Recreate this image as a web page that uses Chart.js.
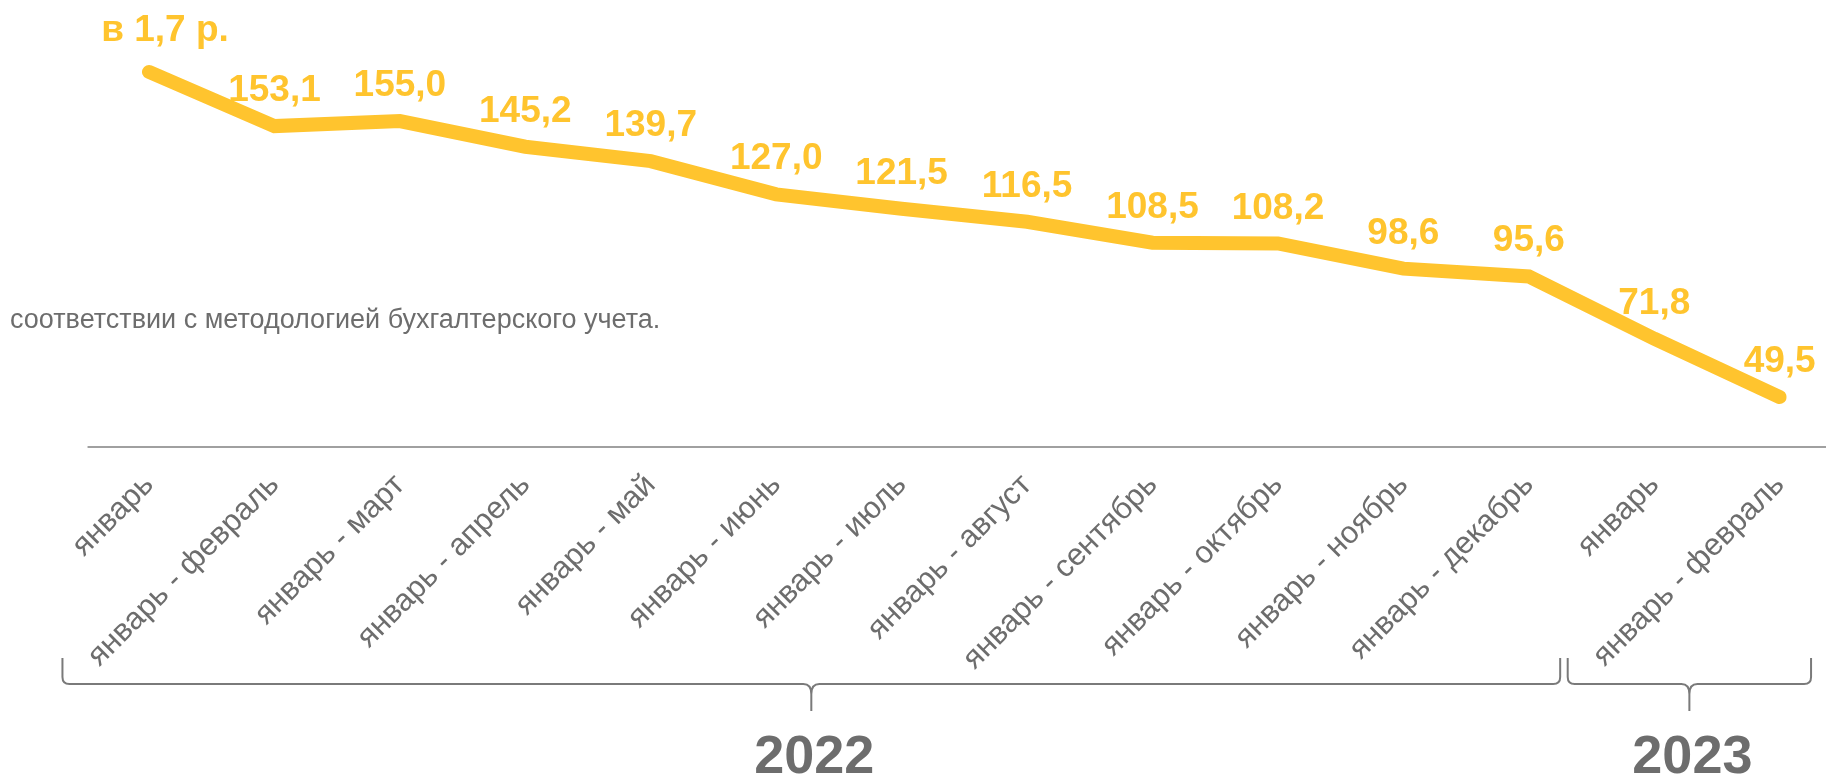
<!DOCTYPE html>
<html lang="ru">
<head>
<meta charset="utf-8">
<script src="https://cdn.jsdelivr.net/npm/chart.js@4.4.1/dist/chart.umd.min.js"></script>
<style>
  html, body { margin: 0; padding: 0; background: #fff; }
  #wrap { width: 1826px; height: 774px; position: relative; }
</style>
</head>
<body>
<div id="wrap"><canvas id="chart"></canvas></div>
<script>
// categories (x axis)
const periods = [
  'январь', 'январь - февраль', 'январь - март', 'январь - апрель', 'январь - май',
  'январь - июнь', 'январь - июль', 'январь - август', 'январь - сентябрь',
  'январь - октябрь', 'январь - ноябрь', 'январь - декабрь',
  'январь', 'январь - февраль'
];

// series values
const values = [173.8, 153.1, 155.0, 145.2, 139.7, 127.0, 121.5, 116.5, 108.5, 108.2, 98.6, 95.6, 71.8, 49.5];

// label above the first point
const firstLabel = 'в 1,7 р.';

// year groups under the axis
const years = ['2022', '2023'];
const yearFirst = [0, 12];
const yearLast = [11, 13];

const note = 'соответствии с методологией бухгалтерского учета.';

const colors = {
  yellow: '#FFC42E',
  gray: '#6d6d6d',
  axis: '#a0a0a0',
  brace: '#7a7a7a'
};
const font = "'Liberation Sans', Arial, sans-serif";

function fmt(v) {
  return v.toFixed(1).replace('.', ',');
}

/**
 * Extra drawing: axis line, note, value labels, year braces
 */
const decorPlugin = {
  id: 'decor',
  afterDatasetsDraw(chart) {
    const { ctx, chartArea, scales } = chart;
    const x = scales.x;
    const step = x.getPixelForValue(1) - x.getPixelForValue(0);
    const base = chartArea.bottom;

    ctx.save();

    // axis line
    ctx.strokeStyle = colors.axis;
    ctx.lineWidth = 2;
    ctx.beginPath();
    ctx.moveTo(x.getPixelForValue(0) - 0.49 * step, base);
    ctx.lineTo(chart.width, base);
    ctx.stroke();

    // note text
    ctx.fillStyle = colors.gray;
    ctx.font = '27px ' + font;
    ctx.textAlign = 'left';
    ctx.textBaseline = 'alphabetic';
    ctx.fillText(note, 10, 328);

    // value labels
    const meta = chart.getDatasetMeta(0);
    ctx.fillStyle = colors.yellow;
    ctx.font = 'bold 37px ' + font;
    ctx.textAlign = 'center';
    meta.data.forEach((pt, i) => {
      if (i === 0) {
        ctx.fillText(firstLabel, pt.x + 16, pt.y - 31);
      } else {
        ctx.fillText(fmt(values[i]), pt.x, pt.y - 25);
      }
    });

    // braces and years
    ctx.strokeStyle = colors.brace;
    ctx.lineWidth = 2;
    const yTop = base + 211;
    const yMid = base + 237;
    const yTip = base + 264;
    const r = 7;
    years.forEach((year, i) => {
      const x1 = x.getPixelForValue(yearFirst[i]) - 0.69 * step;
      const x2 = x.getPixelForValue(yearLast[i]) + 0.25 * step;
      const cx = (x1 + x2) / 2;
      ctx.beginPath();
      ctx.moveTo(x1, yTop);
      ctx.lineTo(x1, yMid - r);
      ctx.quadraticCurveTo(x1, yMid, x1 + r, yMid);
      ctx.lineTo(cx - 8, yMid);
      ctx.quadraticCurveTo(cx, yMid, cx, yMid + 10);
      ctx.lineTo(cx, yTip);
      ctx.moveTo(cx, yMid + 10);
      ctx.quadraticCurveTo(cx, yMid, cx + 8, yMid);
      ctx.lineTo(x2 - r, yMid);
      ctx.quadraticCurveTo(x2, yMid, x2, yMid - r);
      ctx.lineTo(x2, yTop);
      ctx.stroke();

      ctx.fillStyle = colors.gray;
      ctx.font = 'bold 54px ' + font;
      ctx.textAlign = 'center';
      ctx.fillText(year, cx + 3, base + 326);
    });

    ctx.restore();
  }
};

const ctx = document.getElementById('chart');

new Chart(ctx, {
  type: 'line',
  data: {
    labels: periods,
    datasets: [{
      data: values,
      borderColor: colors.yellow,
      borderWidth: 14,
      borderCapStyle: 'round',
      borderJoinStyle: 'miter',
      pointRadius: 0,
      pointHoverRadius: 0,
      tension: 0,
      fill: false
    }]
  },
  options: {
    responsive: true,
    maintainAspectRatio: false,
    animation: false,
    devicePixelRatio: 1,
    layout: {
      padding: { left: 149, right: 40, top: 0, bottom: 0 }
    },
    plugins: {
      legend: { display: false },
      tooltip: { enabled: false }
    },
    scales: {
      y: {
        display: false,
        min: 30.4,
        max: 201.3
      },
      x: {
        offset: false,
        grid: { display: false, drawTicks: false },
        border: { display: false },
        afterFit: (scale) => { scale.height = 327; },
        ticks: {
          autoSkip: false,
          maxRotation: 45,
          minRotation: 45,
          padding: 20,
          color: colors.gray,
          font: { family: font, size: 31 }
        }
      }
    }
  },
  plugins: [decorPlugin]
});
</script>
</body>
</html>
